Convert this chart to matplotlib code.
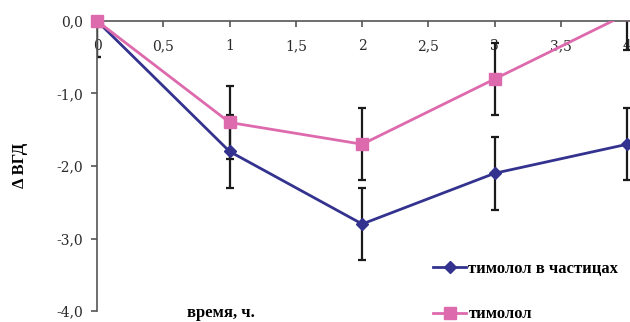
import matplotlib

matplotlib.use("Agg")
import matplotlib.pyplot as plt
from matplotlib.ticker import FuncFormatter, MultipleLocator

HOURS = [0, 1, 2, 3, 4]
PARTICLES = [0.0, -1.8, -2.8, -2.1, -1.7]
PARTICLES_ERR = [0.5, 0.5, 0.5, 0.5, 0.5]
TIMOLOL = [0.0, -1.4, -1.7, -0.8, 0.1]
TIMOLOL_ERR = [0.5, 0.5, 0.5, 0.5, 0.5]

BLUE = "#33338F"
PINK = "#DE6AAE"
TICK_COLOR = "#2A2A2A"
SERIF = "Liberation Serif"


def _comma(value, decimals):
    text = f"{value:.{decimals}f}" if decimals else f"{value:g}"
    return text.replace(".", ",")


figure = plt.figure(figsize=(6.3, 3.22), dpi=100, facecolor="white")
axis = figure.add_axes([0.154, 0.034, 0.846, 0.901])

axis.errorbar(HOURS, PARTICLES, yerr=PARTICLES_ERR, fmt="none", ecolor="#1A1A1A",
              elinewidth=1.6, capsize=3, capthick=1.6, zorder=2)
axis.errorbar(HOURS, TIMOLOL, yerr=TIMOLOL_ERR, fmt="none", ecolor="#1A1A1A",
              elinewidth=1.6, capsize=3, capthick=1.6, zorder=2)

particles_line, = axis.plot(HOURS, PARTICLES, color=BLUE, linewidth=2,
                            marker="D", markersize=6, zorder=3)
timolol_line, = axis.plot(HOURS, TIMOLOL, color=PINK, linewidth=2,
                          marker="s", markersize=8, zorder=4)
# first point sits on the top spine, keep it whole
axis.plot(HOURS[:1], TIMOLOL[:1], color=PINK, marker="s", markersize=8,
          linestyle="none", clip_on=False, zorder=5)

axis.set_xlim(0, 4.02)
axis.set_ylim(-4, 0)
axis.spines["top"].set_visible(False)
axis.spines["right"].set_visible(False)
axis.spines["bottom"].set_position(("data", 0))
axis.spines["bottom"].set_color("#555555")
axis.spines["left"].set_color("#555555")
axis.spines["bottom"].set_linewidth(1.2)
axis.spines["left"].set_linewidth(1.2)

axis.xaxis.set_major_locator(MultipleLocator(0.5))
axis.yaxis.set_major_locator(MultipleLocator(1.0))
axis.xaxis.set_major_formatter(FuncFormatter(lambda v, _: _comma(v, 0)))
axis.yaxis.set_major_formatter(FuncFormatter(lambda v, _: _comma(v, 1)))
axis.tick_params(axis="both", direction="out", length=4, width=1.2,
                 color="#555555", labelsize=10, labelcolor=TICK_COLOR)
axis.tick_params(axis="x", pad=9)
axis.tick_params(axis="y", pad=6)
for label in axis.get_xticklabels() + axis.get_yticklabels():
    label.set_fontfamily("DejaVu Serif")
    label.set_zorder(1)

figure.text(0.031, 0.485, "Δ ВГД", rotation=90, ha="center", va="center",
            fontsize=12, fontweight="bold", family=[SERIF, "DejaVu Serif"])
figure.text(0.351, 0.028, "время, ч.", ha="center", va="center",
            fontsize=12, fontweight="bold", family=SERIF)

figure.legend(
    [particles_line, timolol_line],
    ["тимолол в частицах", "тимолол"],
    loc="center left",
    bbox_to_anchor=(433 / 630, 1 - 291.5 / 322),
    frameon=False,
    borderpad=0,
    borderaxespad=0,
    handlelength=2.0,
    handletextpad=0.12,
    labelspacing=1.8,
    prop={"family": SERIF, "weight": "bold", "size": 12},
)

figure.savefig("out.png", dpi=100, facecolor="white")
plt.close(figure)
